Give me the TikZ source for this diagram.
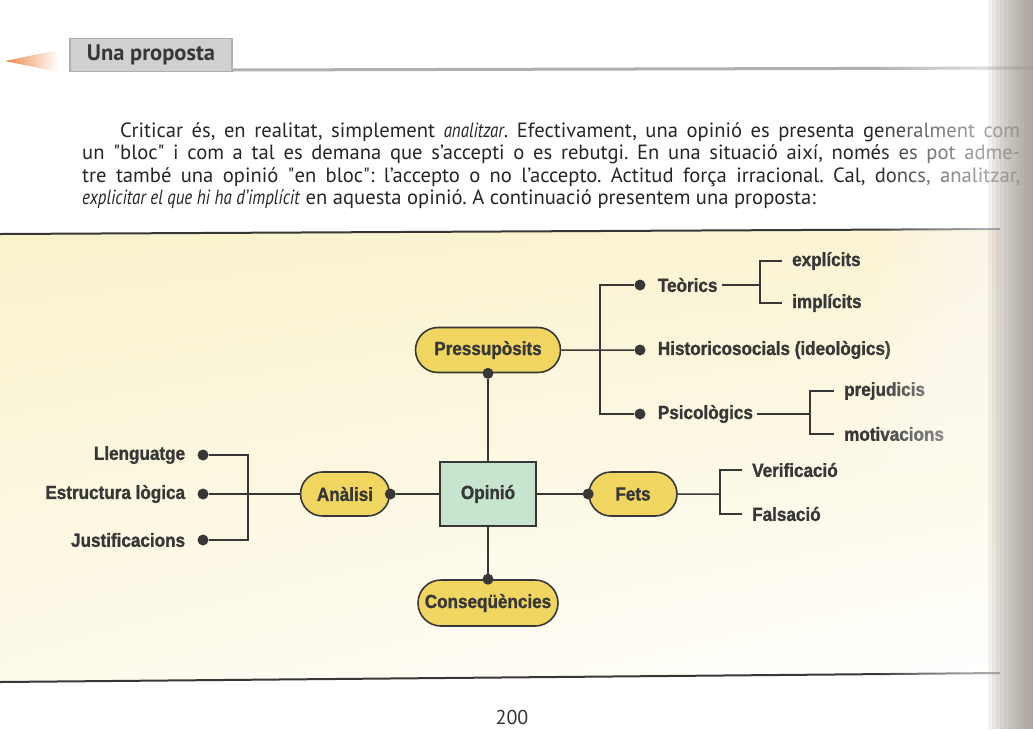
\documentclass[tikz,border=0pt]{standalone}
\usepackage{fontspec}
\setmainfont{PT Sans}[ItalicFeatures={FakeStretch=0.82}]
\newfontfamily\mapfont{Liberation Sans}[BoldFeatures={FakeStretch=0.9, FakeBold=1.2}]
\usetikzlibrary{shapes.misc,positioning,shadings}
\definecolor{inkgray}{RGB}{55,55,55}
\definecolor{pillyellow}{RGB}{240,214,96}
\definecolor{boxgreen}{RGB}{198,228,206}
\definecolor{paleyellow}{RGB}{250,242,204}
\definecolor{headgray}{RGB}{208,208,208}
\definecolor{rulegray}{RGB}{175,175,175}
\definecolor{arroworange}{RGB}{236,136,72}
\definecolor{bindshadow}{RGB}{150,140,130}
\newcommand{\mapsize}{\mapfont\bfseries\fontsize{19}{22}\selectfont}
\newcommand{\fullline}[2]{\makebox[#1][s]{#2}}
\frenchspacing

\tikzset{
  pill/.style={rounded rectangle, draw=inkgray, line width=1.6pt, fill=pillyellow,
    minimum height=45pt, inner xsep=4pt, font=\mapsize, text=inkgray},
  core/.style={rectangle, draw=inkgray, line width=1.4pt, fill=boxgreen,
    minimum width=96pt, minimum height=64pt, font=\mapsize, text=inkgray},
  leaf/.style={font=\mapsize, text=inkgray, inner sep=4pt},
  twig/.style={leaf, anchor=west, inner xsep=10pt},
  knob/.style={circle, fill=inkgray, inner sep=0pt, minimum size=11pt},
  link/.style={draw=inkgray, line width=1.5pt}
}

\begin{document}
\begin{tikzpicture}[x=1pt,y=-1pt]
    \useasboundingbox (0,0) rectangle (1033,729);
    \fill[white] (0,0) rectangle (1033,729);

    % Header
    \shade[left color=arroworange, right color=white] (5,61) -- (58,50) -- (58,72) -- cycle;
    \draw[rulegray, line width=3pt] (232,70) -- (1033,68);
    \node[draw=rulegray, line width=1.5pt, fill=headgray, minimum width=162pt, minimum height=33pt,
      font=\bfseries\fontsize{22.5}{26}\selectfont, text=inkgray] (title) at (151,55) {Una proposta};

    % Paragraph (justified, last line free)
    \begin{scope}[every node/.style={anchor=base west, inner sep=0pt, text=black!85,
        font=\fontsize{20.6}{22}\selectfont}]
      \node (line1) at (120,137) {\fullline{900pt}{Criticar és, en realitat, simplement \textit{analitzar}. Efectivament, una opinió es presenta generalment com}};
      \node (line2) at (82,159) {\fullline{938pt}{un \textquotedbl bloc\textquotedbl{} i com a tal es demana que s'accepti o es rebutgi. En una situació així, només es pot adme-}};
      \node (line3) at (82,182) {\fullline{938pt}{tre també una opinió \textquotedbl en bloc\textquotedbl: l'accepto o no l'accepto. Actitud força irracional. Cal, doncs, analitzar,}};
      \node (line4) at (82,204) {\textit{explicitar el que hi ha d'implícit} en aquesta opinió. A continuació presentem una proposta:};
    \end{scope}

    % Panel
    \shade[upper left=paleyellow, upper right=paleyellow!85!white,
      lower left=paleyellow!40!white, lower right=white]
      (0,234) -- (1000,229) -- (1000,673) -- (0,682) -- cycle;
    \draw[inkgray, line width=2pt] (0,234) -- (1000,229);
    \draw[inkgray, line width=2pt] (0,682) -- (1000,673);

    % Central nodes
    \node[core] (opinio) at (488,494) {Opinió};
    \node[pill, minimum width=153pt] (pressup) at (488,350) {Pressupòsits};
    \node[pill, minimum width=97pt, minimum height=44pt] (analisi) at (345,494) {Anàlisi};
    \node[pill, minimum width=96pt, minimum height=44pt] (fets) at (633,494) {Fets};
    \node[pill, minimum width=148pt, minimum height=46pt] (conseq) at (488,603) {Conseqüències};

    \node[knob] (dpressup) at (pressup.south) {};
    \node[knob] (danalisi) at (analisi.east) {};
    \node[knob] (dfets) at (fets.west) {};
    \node[knob] (dconseq) at (conseq.north) {};

    % Pressuposits branch
    \node[knob] (dteorics) at (640,285) {};
    \node[knob] (dhisto) at (640,350) {};
    \node[knob] (dpsico) at (640,414) {};
    \node[leaf, right=8pt of dteorics] (teorics) {Teòrics};
    \node[leaf, right=8pt of dhisto] (histo) {Historicosocials (ideològics)};
    \node[leaf, right=8pt of dpsico] (psico) {Psicològics};
    \node[twig] (explicits) at (782,261) {explícits};
    \node[twig] (implicits) at (782,303) {implícits};
    \node[twig] (prejudicis) at (834,391) {prejudicis};
    \node[twig] (motivacions) at (834,434) {motivacions};
    \coordinate (jp) at (600,350);
    \coordinate (jt) at (760,285);
    \coordinate (jps) at (810,414);

    % Analisi branch
    \node[knob] (dllengu) at (203,455) {};
    \node[knob] (destruct) at (203,494) {};
    \node[knob] (djustif) at (203,540) {};
    \node[leaf, left=8pt of dllengu] (llengu) {Llenguatge};
    \node[leaf, left=8pt of destruct] (estruct) {Estructura lògica};
    \node[leaf, left=8pt of djustif] (justif) {Justificacions};
    \coordinate (ja) at (248,494);

    % Fets branch
    \node[twig] (verif) at (742,470) {Verificació};
    \node[twig] (falsac) at (742,514) {Falsació};
    \coordinate (jf) at (720,494);

    % Connectors
    \draw[link] (pressup) -- (dhisto);
    \draw[link] (dteorics) -| (jp) |- (dpsico);
    \draw[link] (teorics) -- (jt);
    \draw[link] (explicits.west) -| (jt) |- (implicits.west);
    \draw[link] (psico) -- (jps);
    \draw[link] (prejudicis.west) -| (jps) |- (motivacions.west);
    \draw[link] (dpressup) -- (opinio);
    \draw[link] (danalisi) -- (opinio);
    \draw[link] (opinio) -- (dfets);
    \draw[link] (opinio) -- (dconseq);
    \draw[link] (destruct) -- (analisi);
    \draw[link] (dllengu) -| (ja) |- (djustif);
    \draw[link] (fets) -- (jf);
    \draw[link] (verif.west) -| (jf) |- (falsac.west);

    % Page number
    \node[font=\fontsize{20}{24}\selectfont, text=black!80] (pagenum) at (512,717) {200};

    % Binding shadow
    \foreach \k in {0,...,17}
      \fill[white, opacity=0.05] (880+\k*6,0) rectangle (1033,729);
    \foreach \k in {0,...,11}
      \fill[bindshadow, opacity=0.11] (988+\k*4,0) rectangle (1033,729);
\end{tikzpicture}
\end{document}
